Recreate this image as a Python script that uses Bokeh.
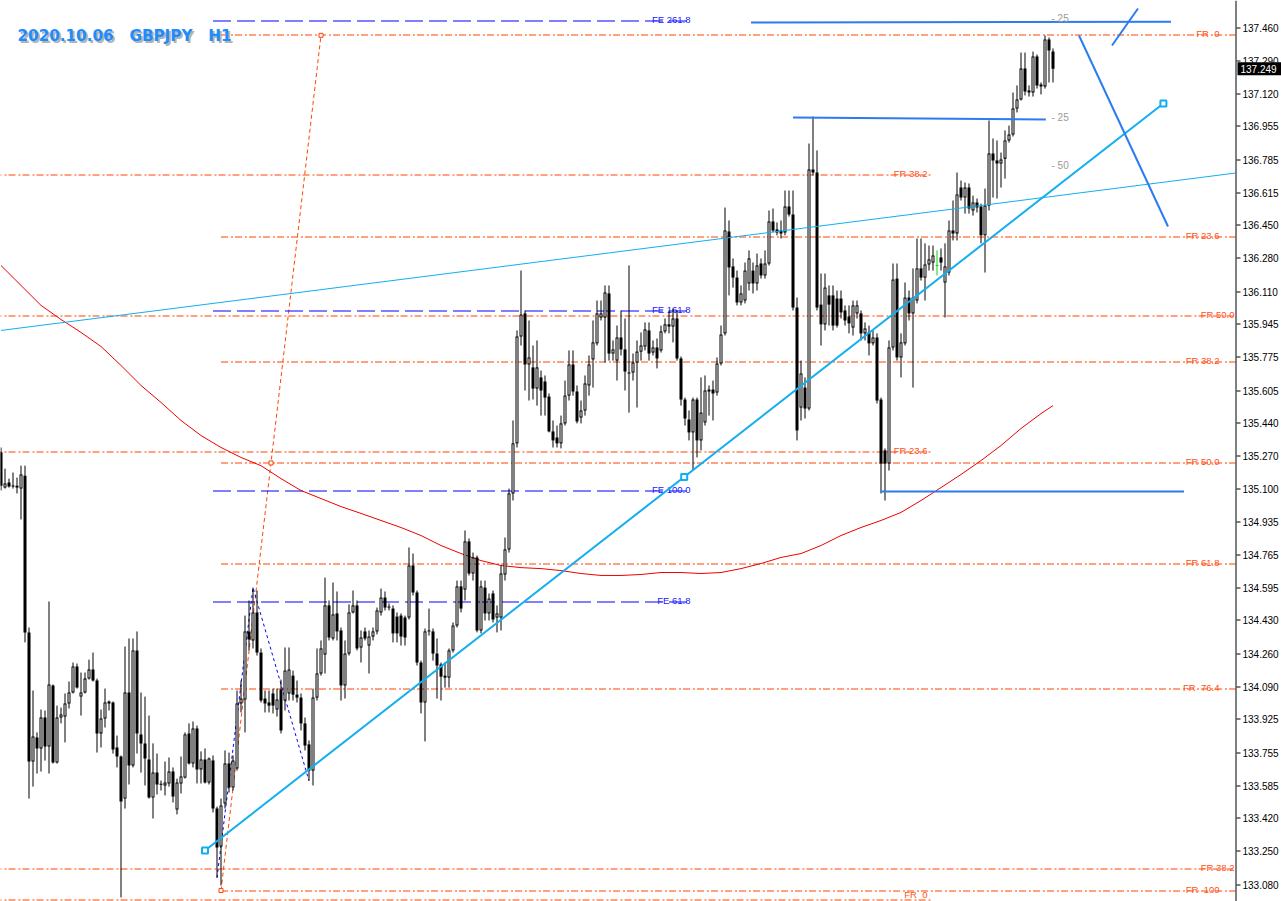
import numpy as np
from bokeh.plotting import figure
from bokeh.models import Range1d
from bokeh.core.properties import value
from bokeh.embed import file_html
from bokeh.resources import INLINE

# ---------------- data (GBPJPY H1) ----------------
open_ = [
    135.289, 135.109, 135.135, 135.114, 135.119, 135.104, 135.170, 134.369, 133.709, 133.832,
    133.776, 133.934, 133.786, 134.098, 133.704, 133.934, 133.939, 134.006, 134.062, 134.195,
    134.041, 134.062, 134.133, 134.179, 134.123, 133.853, 133.929, 134.006, 134.011, 133.781,
    133.735, 133.520, 134.062, 133.689, 134.277, 133.848, 133.802, 133.720, 133.525, 133.653,
    133.592, 133.587, 133.597, 133.658, 133.464, 133.597, 133.627, 133.853, 133.699, 133.878,
    133.669, 133.720, 133.602, 133.714, 133.469, 133.275, 133.495, 133.699, 133.576, 133.674,
    134.006, 134.026, 134.374, 134.328, 134.471, 134.266, 134.031, 134.011, 134.057, 133.975,
    134.077, 134.021, 134.057, 134.148, 134.051, 134.036, 133.904, 133.797, 133.663, 134.036,
    134.159, 134.256, 134.507, 134.338, 134.466, 134.379, 134.098, 134.261, 134.471, 134.507,
    134.292, 134.374, 134.302, 134.348, 134.374, 134.471, 134.547, 134.501, 134.491, 134.450,
    134.455, 134.445, 134.445, 134.711, 134.573, 134.215, 134.011, 134.379, 134.374, 134.261,
    134.205, 134.148, 134.138, 134.277, 134.404, 134.604, 134.588, 134.834, 134.670, 134.752,
    134.379, 134.598, 134.466, 134.568, 134.445, 134.445, 134.665, 134.793, 135.079, 135.335,
    135.881, 135.999, 135.738, 135.723, 135.615, 135.672, 135.651, 135.574, 135.396, 135.365,
    135.335, 135.437, 135.579, 135.738, 135.600, 135.467, 135.503, 135.631, 135.764, 135.846,
    135.978, 135.978, 136.101, 135.794, 135.758, 135.876, 135.815, 135.697, 135.697, 135.748,
    135.804, 135.830, 135.912, 135.799, 135.825, 135.810, 135.907, 135.943, 135.932, 135.973,
    135.769, 135.559, 135.457, 135.391, 135.559, 135.350, 135.442, 135.610, 135.610, 135.595,
    135.743, 135.897, 136.418, 136.239, 136.182, 136.055, 136.065, 136.152, 136.218, 136.152,
    136.254, 136.193, 136.254, 136.469, 136.428, 136.423, 136.413, 136.545, 136.504, 136.029,
    135.518, 135.620, 135.513, 136.734, 136.719, 136.044, 135.943, 136.091, 136.091, 136.075,
    136.075, 136.014, 135.983, 135.927, 135.999, 135.999, 135.897, 135.902, 135.846, 135.876,
    135.559, 135.299, 135.232, 135.825, 136.177, 135.774, 135.846, 136.080, 135.999, 136.065,
    136.229, 136.182, 136.249, 136.259, 136.244, 136.285, 136.157, 136.208, 136.423, 136.408,
    136.642, 136.591, 136.642, 136.525, 136.566, 136.545, 136.398, 136.550, 136.816, 136.780,
    136.765, 136.790, 136.883, 136.913, 137.046, 137.092, 137.250, 137.138, 137.128, 137.312,
    137.169, 137.159, 137.399, 137.337,
]
high = [
    135.314, 135.206, 135.155, 135.186, 135.160, 135.221, 135.221, 134.394, 134.072, 133.858,
    133.975, 133.970, 134.527, 134.103, 133.995, 133.985, 134.057, 134.118, 134.215, 134.210,
    134.164, 134.164, 134.230, 134.266, 134.133, 133.975, 134.082, 134.021, 134.016, 133.842,
    133.740, 134.297, 134.338, 134.338, 134.374, 134.062, 134.041, 133.944, 133.802, 133.750,
    133.612, 133.709, 133.730, 133.679, 133.622, 133.735, 133.858, 133.904, 133.914, 133.893,
    133.761, 133.776, 133.730, 133.740, 133.479, 133.520, 133.766, 133.755, 133.740, 134.072,
    134.123, 134.455, 134.532, 134.598, 134.583, 134.287, 134.072, 134.072, 134.082, 134.082,
    134.128, 134.292, 134.292, 134.174, 134.123, 134.057, 133.934, 133.817, 134.082, 134.287,
    134.328, 134.649, 134.532, 134.624, 134.578, 134.394, 134.328, 134.512, 134.583, 134.532,
    134.379, 134.394, 134.379, 134.394, 134.496, 134.593, 134.578, 134.517, 134.507, 134.471,
    134.466, 134.455, 134.803, 134.772, 134.583, 134.225, 134.389, 134.491, 134.389, 134.338,
    134.215, 134.215, 134.287, 134.420, 134.634, 134.634, 134.890, 134.849, 134.777, 134.762,
    134.634, 134.634, 134.568, 134.583, 134.507, 134.711, 134.854, 135.104, 135.452, 135.912,
    136.218, 136.014, 135.963, 135.835, 135.861, 135.707, 135.682, 135.590, 135.452, 135.426,
    135.477, 135.656, 135.810, 135.810, 135.631, 135.554, 135.682, 135.784, 135.963, 136.065,
    136.065, 136.142, 136.142, 135.861, 135.937, 136.014, 135.973, 136.244, 135.794, 135.861,
    135.902, 135.953, 135.953, 135.861, 135.871, 135.937, 135.973, 136.014, 136.024, 136.014,
    135.779, 135.569, 135.503, 135.569, 135.569, 135.672, 135.682, 135.631, 135.656, 135.774,
    135.937, 136.540, 136.474, 136.280, 136.218, 136.142, 136.259, 136.321, 136.259, 136.305,
    136.280, 136.321, 136.525, 136.535, 136.464, 136.474, 136.627, 136.627, 136.627, 136.080,
    135.758, 135.672, 136.867, 137.005, 136.832, 136.203, 136.203, 136.142, 136.142, 136.116,
    136.116, 136.040, 136.040, 136.065, 136.065, 136.014, 135.953, 135.937, 135.912, 135.897,
    135.569, 135.309, 135.861, 136.254, 136.254, 135.897, 136.157, 136.116, 136.229, 136.382,
    136.382, 136.357, 136.346, 136.346, 136.321, 136.331, 136.357, 136.474, 136.576, 136.719,
    136.678, 136.668, 136.663, 136.601, 136.586, 136.560, 136.637, 136.985, 136.893, 136.883,
    136.821, 136.934, 136.959, 137.128, 137.164, 137.332, 137.332, 137.164, 137.337, 137.322,
    137.179, 137.419, 137.409, 137.353,
]
low = [
    135.094, 135.104, 135.109, 135.104, 135.079, 134.946, 134.318, 133.520, 133.581, 133.648,
    133.658, 133.714, 133.648, 133.699, 133.699, 133.904, 133.807, 133.980, 134.057, 134.082,
    133.944, 134.057, 134.128, 134.118, 133.755, 133.781, 133.883, 133.970, 133.750, 133.679,
    133.015, 133.469, 133.592, 133.679, 133.750, 133.653, 133.587, 133.520, 133.418, 133.541,
    133.561, 133.536, 133.581, 133.500, 133.439, 133.546, 133.622, 133.694, 133.679, 133.597,
    133.597, 133.597, 133.592, 133.449, 133.116, 133.076, 133.469, 133.551, 133.561, 133.663,
    133.960, 133.858, 134.277, 134.287, 134.251, 134.011, 133.960, 133.960, 133.955, 133.939,
    133.853, 133.970, 134.021, 134.021, 134.011, 133.868, 133.766, 133.612, 133.587, 134.021,
    134.148, 134.159, 134.328, 134.328, 134.328, 134.021, 134.031, 134.251, 134.466, 134.277,
    134.215, 134.328, 134.159, 134.328, 134.359, 134.455, 134.481, 134.481, 134.318, 134.318,
    134.302, 134.302, 134.435, 134.558, 134.200, 133.955, 133.812, 134.353, 134.225, 134.031,
    134.021, 134.087, 134.087, 134.266, 134.394, 134.471, 134.532, 134.660, 134.634, 134.369,
    134.364, 134.430, 134.430, 134.420, 134.369, 134.379, 134.634, 134.777, 135.043, 135.314,
    135.835, 135.605, 135.554, 135.559, 135.528, 135.477, 135.477, 135.391, 135.314, 135.314,
    135.309, 135.426, 135.554, 135.579, 135.437, 135.437, 135.477, 135.579, 135.620, 135.835,
    135.963, 135.748, 135.758, 135.758, 135.656, 135.784, 135.605, 135.492, 135.656, 135.518,
    135.758, 135.810, 135.758, 135.784, 135.718, 135.799, 135.897, 135.897, 135.851, 135.758,
    135.528, 135.426, 135.350, 135.196, 135.263, 135.299, 135.426, 135.477, 135.452, 135.579,
    135.733, 135.886, 136.091, 136.131, 136.040, 136.040, 136.050, 136.116, 136.101, 136.116,
    136.177, 136.177, 136.244, 136.413, 136.398, 136.382, 136.398, 136.494, 136.014, 135.350,
    135.452, 135.462, 135.503, 136.704, 136.014, 135.835, 135.912, 135.937, 135.912, 135.927,
    135.973, 135.937, 135.897, 135.886, 135.973, 135.861, 135.861, 135.784, 135.835, 135.539,
    135.079, 135.043, 135.196, 135.810, 135.758, 135.672, 135.835, 135.963, 135.620, 136.050,
    136.167, 136.065, 136.218, 136.218, 136.193, 136.218, 135.978, 136.193, 136.372, 136.372,
    136.576, 136.509, 136.509, 136.499, 136.515, 136.357, 136.208, 136.525, 136.591, 136.586,
    136.642, 136.688, 136.872, 136.903, 137.026, 137.087, 137.113, 137.107, 137.107, 137.148,
    137.118, 137.148, 137.179, 137.179,
]
close = [
    135.119, 135.130, 135.114, 135.119, 135.109, 135.176, 134.369, 133.709, 133.837, 133.776,
    133.934, 133.786, 134.103, 133.704, 133.934, 133.950, 134.006, 134.062, 134.195, 134.087,
    134.062, 134.133, 134.179, 134.123, 133.853, 133.929, 134.011, 134.016, 133.771, 133.735,
    133.505, 134.062, 133.689, 134.277, 133.853, 133.802, 133.725, 133.525, 133.653, 133.592,
    133.590, 133.602, 133.658, 133.530, 133.602, 133.633, 133.848, 133.699, 133.878, 133.669,
    133.720, 133.602, 133.725, 133.469, 133.270, 133.485, 133.699, 133.576, 133.714, 134.006,
    134.031, 134.374, 134.333, 134.471, 134.266, 134.021, 134.006, 133.995, 133.995, 134.026,
    133.868, 134.174, 134.179, 134.051, 134.036, 133.904, 133.791, 133.663, 134.036, 134.159,
    134.287, 134.507, 134.343, 134.461, 134.374, 134.098, 134.261, 134.471, 134.507, 134.287,
    134.343, 134.338, 134.348, 134.374, 134.481, 134.547, 134.496, 134.496, 134.364, 134.364,
    134.348, 134.343, 134.711, 134.573, 134.215, 134.011, 134.374, 134.374, 134.261, 134.200,
    134.143, 134.138, 134.277, 134.404, 134.604, 134.491, 134.834, 134.670, 134.752, 134.379,
    134.604, 134.466, 134.542, 134.435, 134.466, 134.670, 134.793, 135.079, 135.335, 135.881,
    135.993, 135.738, 135.774, 135.615, 135.723, 135.605, 135.569, 135.396, 135.350, 135.335,
    135.437, 135.579, 135.738, 135.600, 135.447, 135.503, 135.641, 135.738, 135.851, 135.999,
    135.999, 136.106, 135.794, 135.815, 135.876, 135.815, 135.702, 135.692, 135.748, 135.804,
    135.835, 135.917, 135.794, 135.825, 135.769, 135.907, 135.943, 135.932, 135.973, 135.769,
    135.559, 135.462, 135.391, 135.559, 135.350, 135.492, 135.605, 135.600, 135.590, 135.743,
    135.891, 136.423, 136.234, 136.182, 136.055, 136.101, 136.218, 136.280, 136.152, 136.244,
    136.193, 136.254, 136.469, 136.423, 136.413, 136.408, 136.545, 136.504, 136.029, 135.401,
    135.692, 135.513, 136.734, 136.719, 136.029, 135.943, 136.131, 136.044, 135.937, 135.937,
    136.004, 135.963, 135.948, 136.040, 136.040, 135.897, 135.922, 135.846, 135.876, 135.554,
    135.232, 135.232, 135.825, 136.172, 135.774, 135.851, 136.080, 135.999, 136.080, 136.229,
    136.182, 136.249, 136.275, 136.295, 136.244, 136.259, 136.239, 136.423, 136.408, 136.607,
    136.591, 136.642, 136.535, 136.566, 136.540, 136.398, 136.550, 136.816, 136.780, 136.765,
    136.785, 136.883, 136.913, 137.046, 137.092, 137.250, 137.133, 137.128, 137.312, 137.164,
    137.159, 137.399, 137.343, 137.249,
]

# moving average (red), read at bar indices
ma_idx = [0, 5, 10, 15, 20, 25, 30, 35, 40, 45, 50, 55, 60, 65, 70, 75, 80, 85, 90, 95,
          100, 105, 110, 115, 120, 125, 130, 135, 140, 145, 150, 155, 160, 165, 170, 175,
          180, 185, 190, 195, 200, 205, 210, 215, 220, 225, 230, 235, 240, 245, 250, 255,
          260, 263]
ma_val = [136.244, 136.142, 136.040, 135.968, 135.902, 135.830, 135.733, 135.631, 135.544,
          135.452, 135.375, 135.314, 135.263, 135.221, 135.155, 135.094, 135.053, 135.012,
          134.977, 134.941, 134.905, 134.864, 134.813, 134.772, 134.736, 134.711, 134.700,
          134.695, 134.685, 134.670, 134.660, 134.660, 134.665, 134.675, 134.675, 134.670,
          134.675, 134.695, 134.721, 134.752, 134.772, 134.813, 134.864, 134.905, 134.941,
          134.982, 135.043, 135.109, 135.176, 135.247, 135.324, 135.411, 135.487, 135.528]

price_ticks = [137.460, 137.290, 137.120, 136.955, 136.785, 136.615, 136.450, 136.280,
               136.110, 135.945, 135.775, 135.605, 135.440, 135.270, 135.100, 134.935,
               134.765, 134.595, 134.430, 134.260, 134.090, 133.925, 133.755, 133.585,
               133.420, 133.250, 133.080]
last_price = 137.249

# Fibonacci retracement sets: (0% price, 100% price)
fr_ratios = [0.0, 23.6, 38.2, 50.0, 61.8, 76.4, 100.0]
fr_texts = ["FR\u00a0\u00a00", "FR 23.6", "FR 38.2", "FR 50.0", "FR 61.8",
            "FR\u00a0\u00a076.4", "FR\u00a0\u00a0100"]
fibA_prices = (137.42, 133.05)
fibA_anchor_idx = [55, 80]
fibC_prices = (133.00, 142.70)
fibD_prices = (124.01, 147.96)

# Fibonacci expansion: A, B, C anchors
fe_idx = [54, 63, 77]
fe_price = [133.115, 134.598, 133.610]
fe_ratios = [61.8, 100.0, 161.8, 261.8]
fe_texts = ["FE 61.8", "FE 100.0", "FE 161.8", "FE 261.8"]

# trend lines
trend_idx = [51.0, 290.6]
trend_price = [133.255, 137.072]
thin_idx = [0.0, 308.5]
thin_price = [135.912, 136.716]

# blue channel / fan lines
blue_lines = [
    ([187.5, 292.5], [137.485, 137.490]),
    ([198.0, 261.2], [137.000, 136.990]),
    ([220.0, 295.75], [135.089, 135.089]),
    ([269.5, 291.75], [137.419, 136.443]),
    ([277.75, 284.25], [137.368, 137.557]),
]
gray_texts = ["- 25", "- 25", "- 50"]
gray_prices = [137.505, 137.000, 136.755]

# ---------------- geometry ----------------
PX_PER_BAR = 4.0
CANVAS_W, CANVAS_H = 1281, 901
CHART_W = 1235                      # price scale starts here
X0 = -0.125
X1 = X0 + CANVAS_W / PX_PER_BAR
Y_TOP = 137.598
PX_PER_YEN = 195.7
Y_BOT = Y_TOP - CANVAS_H / PX_PER_YEN
PX = 1.0 / PX_PER_YEN
LABEL_MAX_PY = 894                  # keep level labels clear of the bottom edge


def sx(px):
    return X0 + px / PX_PER_BAR


def sy(py):
    return Y_TOP - py / PX_PER_YEN


def to_py(price):
    return (Y_TOP - price) * PX_PER_YEN


def snap(price):
    """put a 1px horizontal line on a pixel-row centre (rendering only)"""
    return Y_TOP - (np.floor(to_py(price)) + 0.5) / PX_PER_YEN


FR_LINE = "#ff4500"
FR_TEXT = "#ff5018"
CYAN = "#12aef0"
BLUE2 = "#2a7cf0"
DASHDOT = "7 3 2 2"
FONT = value("Liberation Sans")

p = figure(frame_width=CANVAS_W, frame_height=CANVAS_H,
           x_range=Range1d(X0, X1), y_range=Range1d(Y_BOT, Y_TOP),
           x_axis_type=None, y_axis_type=None,
           toolbar_location=None, output_backend="svg",
           min_border_left=0, min_border_top=0, min_border_bottom=0, min_border_right=0)
p.outline_line_color = None
p.background_fill_color = "white"
p.border_fill_color = "white"

o = np.array(open_)
h = np.array(high)
l = np.array(low)
c = np.array(close)
h = np.maximum(h, np.maximum(o, c))
l = np.minimum(l, np.minimum(o, c))
k = np.arange(len(o), dtype=float)
X_END = sx(CHART_W)


def levels(p0, p100, ratios, texts):
    out = []
    for r, t in zip(ratios, texts):
        v = p0 + (p100 - p0) * r / 100.0
        if Y_BOT + 0.5 * PX < v < Y_TOP - 10 * PX:
            out.append((v, t))
    return [a for a, _ in out], [b for _, b in out]


def draw_levels(vals, texts, x_start, x_end, x_label, line_color, text_color, dash):
    ys = [snap(v) for v in vals]
    p.segment(x0=[x_start] * len(ys), y0=ys, x1=[x_end] * len(ys), y1=ys,
              line_color=line_color, line_width=1, line_dash=dash)
    label_y = [sy(min(to_py(v) - 2, LABEL_MAX_PY)) for v in ys]
    p.text(x=[x_label] * len(ys), y=label_y, text=texts, text_font=FONT,
           text_font_size="9.5px", text_color=text_color, text_align="right",
           text_baseline="alphabetic")


# --- fib set D (full width) ---
vD, tD = levels(*fibD_prices, fr_ratios, fr_texts)
draw_levels(vD, tD, X0 - 5, X_END, sx(1234), FR_LINE, FR_TEXT, DASHDOT)
# --- fib set C (ends mid chart) ---
vC, tC = levels(*fibC_prices, fr_ratios, fr_texts)
draw_levels(vC, tC, X0 - 5, sx(930), sx(927), FR_LINE, FR_TEXT, DASHDOT)
# --- fib set A (selected: handles at both anchors and the middle) ---
vA, tA = levels(*fibA_prices, fr_ratios, fr_texts)
draw_levels(vA, tA, fibA_anchor_idx[0], X_END, sx(1219), FR_LINE, FR_TEXT, DASHDOT)
fibA_line_y = [fibA_prices[1], fibA_prices[0]]
p.line(x=fibA_anchor_idx, y=fibA_line_y, line_color=FR_LINE, line_width=1, line_dash="4 3")
p.scatter(x=fibA_anchor_idx + [float(np.mean(fibA_anchor_idx))],
          y=fibA_line_y + [float(np.mean(fibA_line_y))], marker="square", size=4,
          fill_color="white", line_color=FR_LINE, line_width=1)

# --- fib expansion ---
fe_span = fe_price[1] - fe_price[0]
vE = [fe_price[2] + fe_span * r / 100.0 for r in fe_ratios]
draw_levels(vE, fe_texts, 53, sx(690), sx(690), "#0000ff", "#2020ff", "18 6")
p.line(x=fe_idx, y=fe_price, line_color="#0000ff", line_width=1, line_dash="3 3")

# --- moving average ---
p.line(x=ma_idx, y=ma_val, line_color="#ee0000", line_width=1)

# --- candles (strokes on pixel centres: wick 1px, body 3px, white core 1px) ---
up = c > o
dj = c == o
nd = ~dj
btop = np.maximum(o, c)
bbot = np.minimum(o, c)
btop_draw = np.maximum(btop, bbot + PX)
p.segment(x0=k[nd], y0=h[nd], x1=k[nd], y1=l[nd], line_color="black", line_width=1)
p.segment(x0=k[nd], y0=btop_draw[nd], x1=k[nd], y1=bbot[nd], line_color="black", line_width=3)
core = up & ((btop - bbot) > 2.2 * PX)
p.segment(x0=k[core], y0=btop[core] - PX, x1=k[core], y1=bbot[core] + PX,
          line_color="white", line_width=1)
p.segment(x0=k[dj], y0=h[dj], x1=k[dj], y1=l[dj], line_color="#00dd00", line_width=1)
p.segment(x0=k[dj] - 0.375, y0=o[dj], x1=k[dj] + 0.375, y1=o[dj], line_color="#00dd00",
          line_width=1)

# --- trend lines (main one selected: end and middle handles) ---
p.line(x=thin_idx, y=thin_price, line_color=CYAN, line_width=1)
p.line(x=trend_idx, y=trend_price, line_color=CYAN, line_width=2)
p.scatter(x=trend_idx + [float(np.mean(trend_idx))],
          y=trend_price + [float(np.mean(trend_price))], marker="square", size=6,
          fill_color="white", line_color=CYAN, line_width=2)
for xs, ys in blue_lines:
    p.line(x=xs, y=ys, line_color=BLUE2, line_width=2)
p.text(x=[sx(1051)] * 3, y=gray_prices, text=gray_texts, text_font=FONT,
       text_font_size="10px", text_color="#9a9a9a", text_align="left", text_baseline="middle")

# --- title with shadow ---
title_txt = "2020.10.06\u00a0\u00a0\u00a0GBPJPY\u00a0\u00a0\u00a0H1"
p.text(x=[sx(19)], y=[sy(37)], text=[title_txt], text_font=value("DejaVu Sans"),
       text_font_style="bold", text_font_size="15.2px", text_color="#b4b4b4",
       text_align="left", text_baseline="alphabetic")
p.text(x=[sx(17)], y=[sy(35)], text=[title_txt], text_font=value("DejaVu Sans"),
       text_font_style="bold", text_font_size="15.2px", text_color="#1e8cff",
       text_align="left", text_baseline="alphabetic")

# --- price scale on the right (MT4 style): axis line, ticks, labels ---
p.segment(x0=[sx(CHART_W + 0.5)], y0=[Y_BOT], x1=[sx(CHART_W + 0.5)], y1=[Y_TOP],
          line_color="black", line_width=1)
tick_y = [snap(t) for t in price_ticks]
p.segment(x0=[sx(CHART_W + 1)] * len(tick_y), y0=tick_y,
          x1=[sx(CHART_W + 5)] * len(tick_y), y1=tick_y, line_color="black", line_width=1)
p.text(x=[sx(CHART_W + 7)] * len(price_ticks), y=tick_y,
       text=[f"{t:.3f}" for t in price_ticks], text_font=FONT, text_font_size="10px",
       text_color="black", text_align="left", text_baseline="middle")

# current price tag
p.quad(left=[sx(CHART_W + 2)], right=[sx(CANVAS_W)],
       top=[last_price + 6.5 * PX], bottom=[last_price - 6.5 * PX],
       fill_color="black", line_color=None)
p.text(x=[sx(CHART_W + 5)], y=[last_price], text=[f"{last_price:.3f}"], text_font=FONT,
       text_font_size="10px", text_color="white", text_align="left", text_baseline="middle")

open("out.html", "w").write(file_html(p, INLINE))
